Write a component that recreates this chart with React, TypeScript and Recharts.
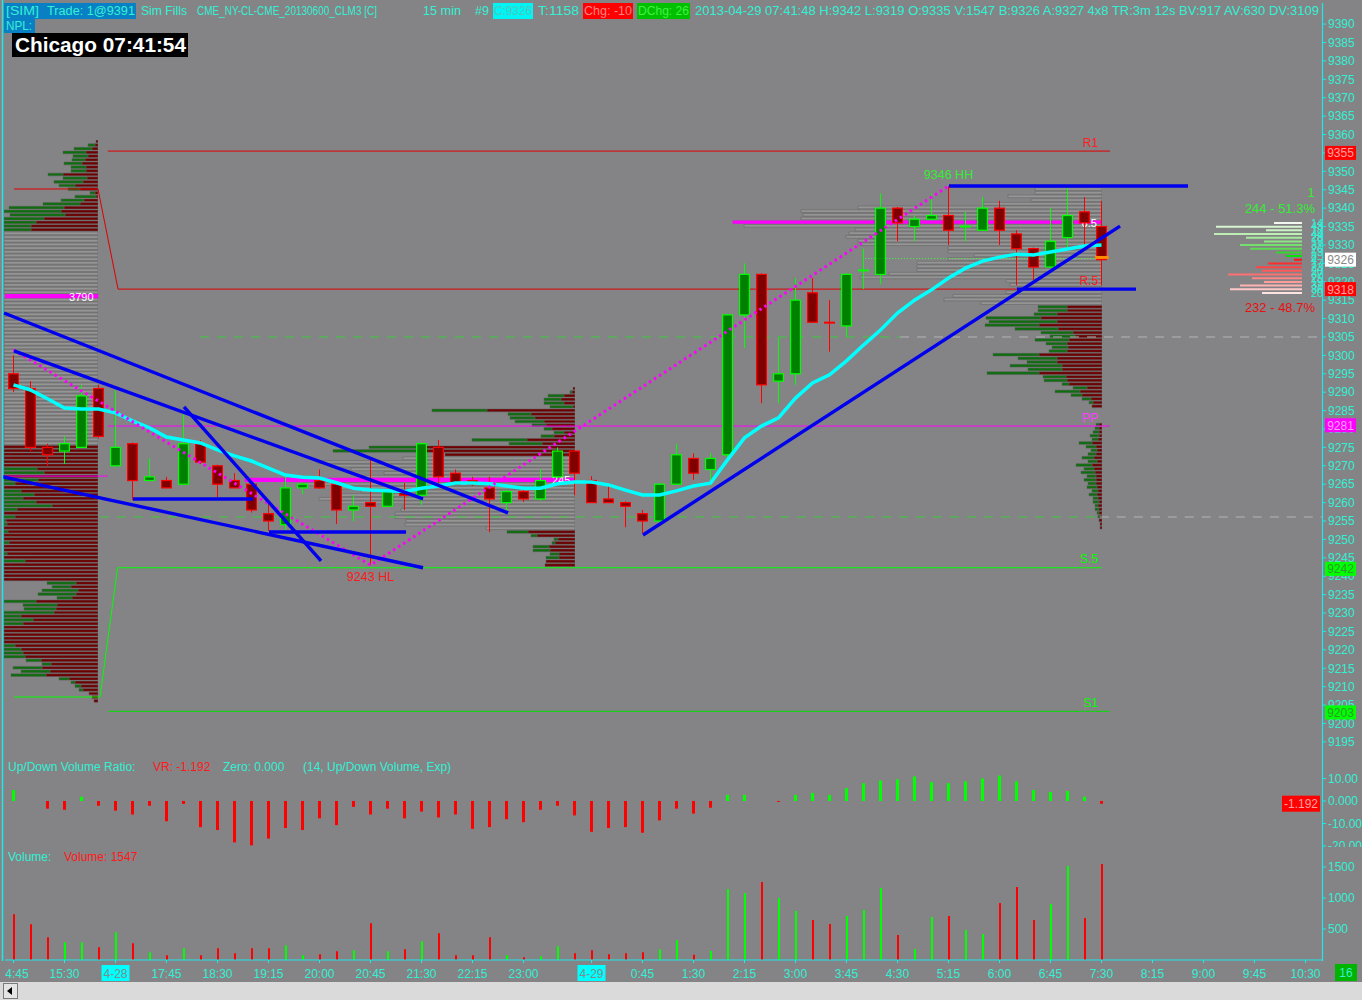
import React from "react";
import {
  ComposedChart,
  Bar,
  Line,
  XAxis,
  YAxis,
  Cell,
  ReferenceLine,
  ReferenceDot,
} from "recharts";

const FONT = "'Liberation Sans', Arial, sans-serif";
const BG = "#848386";
const AQUA = "#33f0d4";
const CYAN_LINE = "#1ee8e8";
const UP = "#00ff00";
const DOWN = "#ff0000";
const BLUE = "#0a80c4";
const TL_BLUE = "#0000ee";
const PROF_GREEN = "#0e6e0e";
const PROF_RED = "#6e0000";
const PROF_GRAY = "#959595";
const PROF_EDGE = "#606060";

// panel geometry
const PAGE_W = 1362;
const PLOT_L = 5;
const AXIS_W = 40;
const PAD_R = 8;
const SLOTS = 77;
const PRICE_TOP = 2;
const PRICE_H = 750;
const PRICE_HI = 9396;
const PRICE_LO = 9192.25;
const RATIO_TOP = 755;
const RATIO_H = 92;
const VOL_TOP = 848;
const VOL_H = 134;

// ---- 15 min bars, CLM3 ----
const opens = [
  9295, 9291, 9275, 9274, 9275, 9291, 9270, 9276, 9266, 9266,
  9265, 9276, 9270, 9266, 9265, 9257, 9254, 9264, 9266, 9265,
  9258, 9260, 9259, 9263, 9262, 9275, 9268, 9266, 9264, 9260,
  9263, 9261, 9267, 9274, 9266, 9261, 9260, 9257, 9255, 9265,
  9272, 9269, 9273, 9311, 9322, 9293, 9295, 9317, 9309, 9308,
  9323, 9322, 9340, 9335, 9337, 9338, 9335, 9334, 9340, 9333,
  9329, 9324, 9332, 9339, 9335,
];
const highs = [
  9300, 9293, 9276, 9278, 9292, 9292, 9290.5, 9276.3, 9272, 9267,
  9284, 9277, 9270.3, 9268, 9265.2, 9260, 9267, 9265.3, 9269, 9265.5,
  9262, 9272, 9263.5, 9265.3, 9276.3, 9277, 9269, 9267, 9267, 9263.5,
  9263.4, 9269, 9275, 9274.2, 9267.2, 9265, 9260.4, 9258, 9265.3, 9276,
  9273.4, 9273.4, 9311.3, 9325, 9322.3, 9305, 9321, 9321, 9315, 9322.3,
  9329, 9344, 9340.3, 9338, 9344, 9346, 9339, 9343, 9342, 9334,
  9329.3, 9340, 9345.4, 9343, 9342,
];
const lows = [
  9290, 9274, 9270, 9270.5, 9275, 9277.5, 9270, 9260.7, 9266, 9264,
  9265, 9270.5, 9261.5, 9264, 9257.3, 9252.3, 9252.6, 9262.3, 9263.8, 9254.2,
  9255, 9243, 9258.8, 9258, 9259.4, 9265.3, 9265, 9264.5, 9252, 9258,
  9260.2, 9260.5, 9266.5, 9262, 9260, 9260, 9253.3, 9251.7, 9254.7, 9264.8,
  9266.2, 9266.2, 9272, 9302, 9287, 9287, 9292, 9308.8, 9301, 9305,
  9318, 9319.3, 9331, 9331, 9336.8, 9330, 9331, 9333.8, 9330, 9319,
  9320.5, 9323.8, 9329, 9330, 9319,
];
const closes = [
  9291, 9275, 9273, 9276, 9289, 9278, 9275, 9266, 9267, 9264,
  9276, 9271, 9265, 9264, 9258, 9255, 9264, 9265, 9264, 9258,
  9259, 9259, 9263, 9262, 9276, 9267, 9265, 9265, 9261, 9263,
  9261, 9266, 9274, 9268, 9260, 9260, 9259, 9255, 9265, 9273,
  9268, 9272, 9311, 9322, 9292, 9295, 9315, 9309, 9308.9, 9322,
  9323.2, 9340, 9336, 9337, 9338, 9334, 9335.1, 9340, 9334, 9329,
  9324, 9331, 9338, 9336, 9326,
];
const ema14 = [
  9292, 9290.6, 9288.2, 9285.7, 9285.4, 9285.4, 9284.4, 9282.2, 9280.3, 9277.8,
  9277, 9276.2, 9274.3, 9272.7, 9271.3, 9269.4, 9267.5, 9266.9, 9266.7, 9265.4,
  9263.9, 9263.4, 9263.2, 9263, 9263.9, 9264.5, 9265.3, 9265.3, 9265.1, 9264.5,
  9263.9, 9263.9, 9265.1, 9265.6, 9265.6, 9264.8, 9263.4, 9262.1, 9262.1, 9263.2,
  9264.5, 9265.3, 9271.6, 9277.6, 9280.8, 9283, 9288.4, 9292.5, 9294.7, 9298.5,
  9302.8, 9306.9, 9311.5, 9315, 9317.8, 9321, 9323.7, 9325.6, 9326.7, 9327.5,
  9327.3, 9328.1, 9328.9, 9329.7, 9330,
];
const volumes = [
  737, 575, 366, 285, 285, 204, 446, 269, 124, 75,
  188, 75, 188, 108, 188, 188, 237, 75, 91, 140,
  156, 591, 140, 172, 301, 430, 75, 75, 366, 75,
  43, 59, 220, 108, 156, 91, 108, 124, 172, 317,
  86, 145, 1145, 1081, 1258, 1000, 790, 645, 581, 710,
  806, 1161, 403, 177, 694, 710, 484, 419, 919, 1177,
  645, 903, 1516, 677, 1547,
];
const udRatio = [
  4.9, 0, -3.4, -3.9, 1.9, -2.1, -4.3, -6, -2.1, -9,
  -1.3, -11.6, -12.9, -18.4, -19.7, -16.7, -12, -12.9, -7.7, -10.7,
  -2.6, -6, -3.4, -7.7, -4.7, -7.3, -6, -12.4, -11.6, -8.1,
  -9.4, -3.9, -2.1, -6.4, -13.7, -12, -11.6, -14.1, -8.6, -3.4,
  -5.6, -3, 2.7, 2.7, 0, -0.4, 2.7, 3.6, 2.7, 5.7,
  7.9, 9.1, 9.6, 10.9, 8.4, 7.9, 8.7, 10, 11.3, 8.7,
  4.9, 4, 4.4, 1.9, -1.192,
];

const tickSlots = [0, 3, 6, 9, 12, 15, 18, 21, 24, 27, 30, 34, 37, 40, 43, 46, 49, 52, 55, 58, 61, 64, 67, 70, 73, 76];
const tickNames = ["4:45", "15:30", "4-28", "17:45", "18:30", "19:15", "20:00", "20:45", "21:30", "22:15", "23:00", "4-29", "0:45", "1:30", "2:15", "3:00", "3:45", "4:30", "5:15", "6:00", "6:45", "7:30", "8:15", "9:00", "9:45", "10:30"];
const dateNames = ["4-28", "4-29"];

const priceTicks = [
  9195, 9200, 9205, 9210, 9215, 9220, 9225, 9230, 9235, 9240,
  9245, 9250, 9255, 9260, 9265, 9270, 9275, 9280, 9285, 9290,
  9295, 9300, 9305, 9310, 9315, 9320, 9325, 9330, 9335, 9340,
  9345, 9350, 9355, 9360, 9365, 9370, 9375, 9380, 9385, 9390,
];
const ratioTicks = [10, 0, -10, -20];
const volumeTicks = [500, 1000, 1500];

// price flags on the axis
const axisFlags = [9355, 9326, 9318, 9281, 9242, 9203];
const flagBg = ["#ff0000", "#ffffff", "#ff0000", "#ff00ff", "#00ff00", "#00ff00"];
const flagFg = ["#ffa0a0", "#8a8a8a", "#ffa0a0", "#ffa0ff", "#2e9a2e", "#2e9a2e"];

// pivots: name, price, from slot, to slot
const pivots: [string, number, number, number][] = [
  ["R1", 9355.5, 5.55, 64.5],
  ["R.5", 9318, 6.15, 64.5],
  ["PP", 9280.8, 5.55, 64.5],
  ["S.5", 9242.3, 6.12, 64.0],
  ["S1", 9203.3, 5.55, 64.5],
];
const pivotColors = ["#e00000", "#e00000", "#ff00ff", "#00ff00", "#00e000"];
const labelColors = ["#ff2020", "#ff2020", "#ff40ff", "#00ff00", "#00ff00"];
// previous session pivots: [slot, price] polylines
const prevPivots: [number, number][][] = [
  [[0.03, 9345.2], [4.97, 9345.2], [6.15, 9318]],
  [[-0.5, 9267.2], [5.55, 9267.2]],
  [[0.03, 9207.2], [5.09, 9207.2], [6.12, 9242.3]],
];
const prevColors = ["#e00000", "#ff00ff", "#00ff00"];

// profile points of control: price, from, to, tag
const pocLines: [number, number, number, string][] = [
  [9316.1, -0.5, 4.98, "3790"],
  [9266.2, 13.6, 33.03, "245"],
  [9336.2, 42.3, 64.0, "6.5"],
];

// drawn trend lines: slot1, price1, slot2, price2
const trendLines = [
  [-0.56, 9311.5, 29.09, 9257.2],
  [0.03, 9301.2, 24.09, 9261],
  [-0.62, 9267, 24.09, 9242.3],
  [10.03, 9286, 18.09, 9244.2],
  [7.03, 9261, 14.09, 9261],
  [15.03, 9252, 23.09, 9252],
  [37.03, 9251.2, 65.09, 9335.1],
  [55.03, 9346, 69.09, 9346],
  [59.03, 9318, 66.03, 9318],
];

// swing zigzag
const swings = [
  { x: 0, y: 9301.5 },
  { x: 21, y: 9243 },
  { x: 55, y: 9346 },
];

// volume profiles, one row per point: [ask, bid, untyped]
type Row = [number, number, number];
const leftProfileTop = 9358;
const leftProfile: Row[] = [
  [0, 2, 0], [7, 3, 0], [18, 6, 0], [23, 12, 0], [15, 10, 0], [13, 13, 0], [18, 16, 0], [15, 12, 0], [15, 12, 0], [15, 35, 0],
  [24, 11, 0], [29, 15, 0], [16, 23, 0], [12, 18, 0], [5, 3, 0], [21, 2, 0], [23, 14, 0], [37, 18, 0], [55, 34, 0], [58, 37, 0],
  [55, 33, 0], [41, 54, 0], [33, 62, 0], [28, 67, 0], [28, 67, 0],
  [0, 0, 95], [0, 0, 95], [0, 0, 95], [0, 0, 95], [0, 0, 95], [0, 0, 95], [0, 0, 95], [0, 0, 95], [0, 0, 95], [0, 0, 95],
  [0, 0, 95], [0, 0, 95], [0, 0, 95], [0, 0, 95], [0, 0, 95], [0, 0, 95], [0, 0, 95], [0, 0, 95], [0, 0, 95], [0, 0, 95],
  [0, 0, 95], [0, 0, 95], [0, 0, 95], [0, 0, 95], [0, 0, 95], [0, 0, 95], [0, 0, 95], [0, 0, 95], [0, 0, 95], [0, 0, 95],
  [0, 0, 95], [0, 0, 95], [0, 0, 95], [0, 0, 95], [0, 0, 95], [0, 0, 95], [0, 0, 95], [0, 0, 95], [0, 0, 95], [0, 0, 95],
  [0, 0, 95], [0, 0, 95], [0, 0, 95], [0, 0, 95], [0, 0, 95], [0, 0, 95], [0, 0, 95], [0, 0, 95], [0, 0, 95], [0, 0, 95],
  [0, 0, 95], [0, 0, 95], [0, 0, 95], [0, 0, 95], [0, 0, 95], [0, 0, 95], [0, 0, 95], [0, 0, 95],
  [0, 95, 0], [0, 95, 0], [0, 95, 0], [0, 95, 0], [0, 95, 0], [0, 95, 0], [34, 61, 0], [41, 54, 0], [0, 95, 0], [35, 60, 0],
  [12, 83, 0], [0, 95, 0], [18, 77, 0], [31, 64, 0], [20, 75, 0], [33, 62, 0], [49, 46, 0], [14, 81, 0], [0, 95, 0], [12, 83, 0],
  [3, 92, 0], [4, 91, 0], [0, 95, 0], [5, 90, 0], [0, 95, 0], [0, 95, 0], [6, 89, 0], [0, 95, 0], [0, 95, 0], [4, 91, 0],
  [0, 95, 0], [22, 73, 0], [0, 95, 0], [0, 95, 0], [0, 95, 0], [0, 95, 0], [0, 95, 0], [29, 22, 0], [19, 27, 0], [36, 20, 0],
  [38, 22, 0], [15, 26, 0], [33, 62, 0], [34, 41, 0], [32, 42, 0], [51, 44, 0], [18, 77, 0], [30, 65, 0], [20, 75, 0], [0, 95, 0],
  [0, 95, 0], [0, 95, 0], [0, 95, 0], [0, 95, 0], [12, 83, 0], [18, 77, 0], [20, 75, 0], [22, 73, 0], [15, 57, 0], [9, 47, 0],
  [29, 56, 0], [29, 48, 0], [35, 52, 0], [10, 29, 0], [4, 23, 0], [6, 17, 0], [4, 15, 0], [0, 9, 0], [0, 6, 0], [0, 4, 0],
];
const midProfileTop = 9291;
const midProfile: Row[] = [
  [0, 2, 0], [2, 3, 0], [16, 11, 0], [17, 14, 0], [20, 11, 0], [23, 2, 0], [55, 88, 0], [23, 44, 0], [25, 40, 0], [29, 31, 0],
  [14, 29, 0], [8, 23, 0], [10, 11, 0], [13, 21, 0], [55, 48, 0], [33, 33, 0], [48, 158, 0], [86, 156, 0], [0, 130, 0],
  [0, 0, 172], [0, 0, 258], [0, 0, 245], [0, 0, 224], [0, 0, 191], [0, 0, 214], [0, 0, 285], [0, 0, 272], [0, 0, 244], [0, 0, 214],
  [0, 0, 234], [0, 0, 256], [0, 0, 244], [0, 0, 172], [0, 0, 174], [0, 0, 180], [0, 0, 180], [0, 0, 169], [0, 0, 170], [0, 0, 89],
  [21, 47, 0], [6, 38, 0], [4, 17, 0], [3, 20, 0], [16, 26, 0], [17, 25, 0], [9, 16, 0], [13, 16, 0], [0, 29, 0], [0, 30, 0],
];
const rightProfileTop = 9346;
const rightProfile: Row[] = [
  [0, 0, 21], [0, 0, 67], [0, 0, 67], [0, 0, 94], [0, 0, 71], [0, 0, 119], [0, 0, 244], [0, 0, 301], [0, 0, 299], [0, 0, 301],
  [0, 0, 369], [0, 0, 358], [0, 0, 247], [0, 0, 253], [0, 0, 256], [0, 0, 244], [0, 0, 244], [0, 0, 154], [0, 0, 154], [0, 0, 128],
  [0, 0, 154], [0, 0, 185], [0, 0, 185], [0, 0, 185], [0, 0, 213], [0, 0, 242], [0, 0, 96], [0, 0, 92], [0, 0, 85], [0, 0, 96],
  [0, 0, 149], [0, 0, 158], [0, 0, 121],
  [29, 35, 0], [29, 35, 0], [23, 45, 0], [55, 61, 0], [68, 45, 0], [54, 63, 0], [43, 44, 0], [32, 29, 0], [25, 27, 0], [34, 33, 0],
  [21, 35, 0], [16, 34, 0], [18, 35, 0], [46, 63, 0], [39, 45, 0], [30, 45, 0], [52, 40, 0], [34, 40, 0], [52, 63, 0], [23, 36, 0],
  [23, 35, 0], [7, 33, 0], [14, 15, 0], [25, 22, 0], [11, 20, 0], [9, 11, 0], [4, 9, 0], [0, 10, 0],
  [0, 0, 0], [0, 0, 0], [0, 0, 0], [0, 0, 0],
  [3, 3, 0], [4, 3, 0], [6, 3, 0], [9, 3, 0], [6, 4, 0], [13, 10, 0], [10, 6, 0], [6, 5, 0], [8, 6, 0], [12, 8, 0],
  [9, 5, 0], [16, 10, 0], [10, 8, 0], [14, 7, 0], [9, 6, 0], [12, 6, 0], [8, 6, 0], [10, 5, 0], [6, 4, 0], [8, 5, 0],
  [5, 4, 0], [6, 3, 0], [3, 4, 0], [4, 3, 0], [2, 3, 0], [2, 2, 0], [0, 3, 0], [0, 2, 0], [0, 2, 0],
];

// depth of market
const domPrices = [9336, 9335, 9334, 9333, 9332, 9331, 9330, 9329, 9328, 9327, 9326, 9325, 9324, 9323, 9322, 9321, 9320, 9319, 9318, 9317];
const domSizes = [14, 43, 18, 44, 28, 19, 31, 26, 13, 8, 4, 17, 23, 20, 37, 25, 19, 31, 36, 20];
const domColors = [
  "#f2f7f2", "#d6f5d0", "#cbf2c3", "#bdefb5", "#a6ea9c", "#8fe585", "#74e06b", "#5edb55", "#36d42e", "#00e600",
  "#ff1414", "#ff2e2e", "#ff4444", "#ff5a5a", "#ff7070", "#ff8686", "#ff9c9c", "#ffb2b2", "#ffc8c8", "#ffe2e2",
];

const yOf = (price: number) => PRICE_TOP + ((PRICE_HI - price) / (PRICE_HI - PRICE_LO)) * PRICE_H;
const ROW = PRICE_H / (PRICE_HI - PRICE_LO);

const rows = Array.from({ length: SLOTS }, (_, i) =>
  i < opens.length
    ? {
        i,
        o: opens[i],
        h: highs[i],
        l: lows[i],
        c: closes[i],
        range: [lows[i], highs[i]],
        ema: ema14[i],
        vol: volumes[i],
        vr: udRatio[i],
      }
    : { i }
);

function Candle(props: any) {
  const { x, width, payload } = props;
  let { y, height } = props;
  if (!payload || payload.o == null) return null;
  if (height < 0) {
    y += height;
    height = -height;
  }
  const { o, h, l, c } = payload;
  const k = h > l ? height / (h - l) : 0;
  const mid = x + width / 2;
  const yo = y + (h - o) * k;
  const yc = y + (h - c) * k;
  const up = c >= o;
  const top = Math.min(yo, yc);
  const bh = Math.max(Math.abs(yc - yo), 0.8);
  return (
    <g>
      <line x1={mid} x2={mid} y1={y} y2={y + height} stroke={up ? UP : DOWN} strokeWidth={1} />
      <rect
        x={x + 0.6}
        y={top}
        width={width - 1.2}
        height={bh}
        fill={up ? "#008000" : "#800000"}
        stroke={up ? UP : DOWN}
        strokeWidth={1.2}
      />
    </g>
  );
}

function Profile({ top, data, right, span }: { top: number; data: Row[]; right: number; span: number }) {
  const pts = data.map((r, k) => ({ p: top - k, ask: r[0], bid: r[1], gray: r[2] }));
  return (
    <div style={{ position: "absolute", left: right - span, top: yOf(top + 0.5) }}>
      <ComposedChart
        layout="vertical"
        width={span}
        height={data.length * ROW}
        data={pts}
        margin={{ top: 0, right: 0, bottom: 0, left: 0 }}
      >
        <XAxis type="number" domain={[0, span]} reversed hide allowDataOverflow />
        <YAxis type="category" dataKey="p" hide />
        <Bar dataKey="bid" stackId="v" barSize={2.7} fill={PROF_RED} stroke={PROF_EDGE} strokeWidth={0.5} isAnimationActive={false} />
        <Bar dataKey="ask" stackId="v" barSize={2.7} fill={PROF_GREEN} stroke={PROF_EDGE} strokeWidth={0.5} isAnimationActive={false} />
        <Bar dataKey="gray" stackId="v" barSize={2.7} fill={PROF_GRAY} stroke={PROF_EDGE} strokeWidth={0.5} isAnimationActive={false} />
      </ComposedChart>
    </div>
  );
}

const DOM_PAD = 7;

function DomLadder() {
  const pts = domPrices.map((p, k) => ({ p, size: domSizes[k] }));
  return (
    <div style={{ position: "absolute", left: 1212, top: yOf(domPrices[0] + 0.5) - DOM_PAD }}>
      <ComposedChart
        layout="vertical"
        width={112}
        height={pts.length * ROW + 2 * DOM_PAD}
        data={pts}
        margin={{ top: DOM_PAD, right: 0, bottom: DOM_PAD, left: 0 }}
      >
        <XAxis type="number" domain={[0, 45]} reversed hide allowDataOverflow />
        <YAxis
          type="category"
          dataKey="p"
          orientation="right"
          width={22}
          axisLine={false}
          tickLine={false}
          interval={0}
          tickMargin={3}
          tick={{ fill: AQUA, fontSize: 11 }}
          tickFormatter={(_v: any, k: number) => String(domSizes[k])}
        />
        <Bar dataKey="size" barSize={2} isAnimationActive={false}>
          {pts.map((_, k) => (
            <Cell key={k} fill={domColors[k]} />
          ))}
        </Bar>
      </ComposedChart>
    </div>
  );
}

const textDot = (label: string, color: string, anchor: string, dy: number, size = 12) => (p: any) => (
  <text x={p.cx} y={p.cy + dy} fill={color} fontSize={size} textAnchor={anchor} fontFamily={FONT}>
    {label}
  </text>
);

function BackOverlay() {
  return (
    <div style={{ position: "absolute", left: 0, top: PRICE_TOP }}>
      <ComposedChart width={PAGE_W} height={PRICE_H} data={swings} margin={{ top: 0, right: AXIS_W, bottom: 0, left: PLOT_L }}>
        <XAxis type="number" dataKey="x" domain={[-0.5, SLOTS - 0.5]} hide allowDataOverflow padding={{ left: 0, right: PAD_R }} />
        <YAxis type="number" domain={[PRICE_LO, PRICE_HI]} hide allowDataOverflow />
        {/* dashed reference levels */}
        <ReferenceLine segment={[{ x: 10.97, y: 9305 }, { x: 52.15, y: 9305 }]} stroke="#3ccc3c" strokeDasharray="9 8" ifOverflow="visible" />
        <ReferenceLine segment={[{ x: 52.15, y: 9305 }, { x: 77, y: 9305 }]} stroke="#b4b4b4" strokeDasharray="9 8" ifOverflow="visible" />
        <ReferenceLine segment={[{ x: 5.09, y: 9256.1 }, { x: 63.9, y: 9256.1 }]} stroke="#3ccc3c" strokeDasharray="9 8" ifOverflow="visible" />
        <ReferenceLine segment={[{ x: 63.9, y: 9256.1 }, { x: 77, y: 9256.1 }]} stroke="#b4b4b4" strokeDasharray="9 8" ifOverflow="visible" />
        <ReferenceLine segment={[{ x: 50.1, y: 9326.3 }, { x: 64.0, y: 9326.3 }]} stroke="#40ff40" strokeDasharray="1 2" ifOverflow="visible" />
        {pivots.map(([name, price, from, to], k) => (
          <ReferenceLine key={name} segment={[{ x: from, y: price }, { x: to, y: price }]} stroke={pivotColors[k]} strokeWidth={1} ifOverflow="visible" />
        ))}
        {pivots.map(([name, price], k) => (
          <ReferenceDot key={"l" + name} x={63.8} y={price} r={0} ifOverflow="visible" shape={textDot(name, labelColors[k], "end", -4.3)} />
        ))}
        {prevPivots.map((pl, k) =>
          pl.slice(1).map((pt, j) => (
            <ReferenceLine
              key={`pp${k}-${j}`}
              segment={[{ x: pl[j][0], y: pl[j][1] }, { x: pt[0], y: pt[1] }]}
              stroke={prevColors[k]}
              strokeWidth={1}
              ifOverflow="visible"
            />
          ))
        )}
        {pocLines.map(([price, from, to], k) => (
          <ReferenceLine key={"poc" + k} segment={[{ x: from, y: price }, { x: to, y: price }]} stroke="#ff00ff" strokeWidth={k === 2 ? 3.2 : 4.2} ifOverflow="visible" />
        ))}
        {pocLines.map(([price, , to, tag], k) => (
          <ReferenceDot key={"tag" + k} x={to - 0.27} y={price} r={0} ifOverflow="visible" shape={textDot(tag, "#ffffff", "end", 4.5, 11)} />
        ))}
      </ComposedChart>
    </div>
  );
}

function FrontOverlay() {
  return (
    <div style={{ position: "absolute", left: 0, top: PRICE_TOP }}>
      <ComposedChart width={PAGE_W} height={PRICE_H} data={swings} margin={{ top: 0, right: AXIS_W, bottom: 0, left: PLOT_L }}>
        <XAxis type="number" dataKey="x" domain={[-0.5, SLOTS - 0.5]} hide allowDataOverflow padding={{ left: 0, right: PAD_R }} />
        <YAxis type="number" domain={[PRICE_LO, PRICE_HI]} hide allowDataOverflow />
        <Line dataKey="y" stroke="#ff00ff" strokeWidth={3} strokeDasharray="2.5 3.5" dot={false} isAnimationActive={false} />
        {trendLines.map(([x1, p1, x2, p2], k) => (
          <ReferenceLine key={"tl" + k} segment={[{ x: x1, y: p1 }, { x: x2, y: p2 }]} stroke={TL_BLUE} strokeWidth={3.4} ifOverflow="visible" />
        ))}
        <ReferenceLine segment={[{ x: 63.62, y: 9326.6 }, { x: 64.42, y: 9326.6 }]} stroke="#ff8c00" strokeWidth={3} ifOverflow="visible" />
        <ReferenceDot x={55} y={9346} r={0} ifOverflow="visible" shape={textDot("9346 HH", "#33ee33", "middle", -7.5, 12.5)} />
        <ReferenceDot x={21} y={9243} r={0} ifOverflow="visible" shape={textDot("9243 HL", "#ff1a1a", "middle", 16, 12.5)} />
        {axisFlags.map((p, k) => (
          <ReferenceDot
            key={"flag" + p}
            x={77}
            y={p}
            r={0}
            ifOverflow="visible"
            shape={(s: any) => (
              <g>
                <rect x={s.cx + 2.5} y={s.cy - 7} width={31} height={14} fill={flagBg[k]} />
                <text x={s.cx + 18} y={s.cy + 4.5} fill={flagFg[k]} fontSize={12} textAnchor="middle" fontFamily={FONT}>
                  {p}
                </text>
              </g>
            )}
          />
        ))}
      </ComposedChart>
    </div>
  );
}

function PricePanel() {
  return (
    <div style={{ position: "absolute", left: 0, top: PRICE_TOP }}>
      <ComposedChart width={PAGE_W} height={PRICE_H} data={rows} margin={{ top: 0, right: 0, bottom: 0, left: PLOT_L }}>
        <XAxis dataKey="i" hide padding={{ left: 0, right: PAD_R }} />
        <YAxis
          orientation="right"
          width={AXIS_W}
          type="number"
          domain={[PRICE_LO, PRICE_HI]}
          allowDataOverflow
          ticks={priceTicks}
          interval={0}
          axisLine={false}
          tickLine={{ stroke: CYAN_LINE }}
          tickSize={4}
          tickMargin={2}
          tick={{ fill: AQUA, fontSize: 12 }}
        />
        <Bar dataKey="range" barSize={11} shape={Candle} isAnimationActive={false} />
        <Line dataKey="ema" stroke="#00ffff" strokeWidth={3.5} dot={false} isAnimationActive={false} />
      </ComposedChart>
    </div>
  );
}

function RatioPanel() {
  return (
    <div style={{ position: "absolute", left: 0, top: RATIO_TOP }}>
      <ComposedChart width={PAGE_W} height={RATIO_H} data={rows} margin={{ top: 0, right: 0, bottom: 0, left: PLOT_L }}>
        <XAxis dataKey="i" hide padding={{ left: 0, right: PAD_R }} />
        <YAxis
          orientation="right"
          width={AXIS_W}
          type="number"
          domain={[-20.44, 20.44]}
          allowDataOverflow
          ticks={ratioTicks}
          interval={0}
          axisLine={false}
          tickLine={{ stroke: CYAN_LINE }}
          tickSize={4}
          tickMargin={2}
          tick={{ fill: AQUA, fontSize: 12 }}
          tickFormatter={(v: number) => (v === 0 ? "0.000" : v.toFixed(2))}
        />
        <Bar dataKey="vr" barSize={3} isAnimationActive={false}>
          {rows.map((r: any) => (
            <Cell key={r.i} fill={r.vr >= 0 ? UP : DOWN} />
          ))}
        </Bar>
        <ReferenceDot
          x={76}
          y={udRatio[udRatio.length - 1]}
          r={0}
          ifOverflow="visible"
          shape={(s: any) => (
            <g>
              <rect x={s.cx - 23.5} y={s.cy - 8} width={38} height={16} fill="#ff0000" />
              <text x={s.cx - 4.5} y={s.cy + 4.5} fill="#ffa0a0" fontSize={12} textAnchor="middle" fontFamily={FONT}>
                -1.192
              </text>
            </g>
          )}
        />
      </ComposedChart>
    </div>
  );
}

function SlotTick(props: any) {
  const { x, y, payload } = props;
  const k = tickSlots.indexOf(payload.value);
  const name = tickNames[k] ?? "";
  const isDate = dateNames.includes(name);
  const cx = k === 0 ? x + 3.5 : x;
  return (
    <g>
      {isDate && <rect x={cx - 14} y={y} width={28} height={16} fill="#00ffff" />}
      <text x={cx} y={y + 12.5} fill={isDate ? "#7c8c8c" : AQUA} fontSize={12} textAnchor="middle" fontFamily={FONT}>
        {name}
      </text>
    </g>
  );
}

function VolumePanel() {
  return (
    <div style={{ position: "absolute", left: 0, top: VOL_TOP }}>
      <ComposedChart width={PAGE_W} height={VOL_H} data={rows} margin={{ top: 0, right: 0, bottom: 0, left: PLOT_L }}>
        <XAxis
          dataKey="i"
          padding={{ left: 0, right: PAD_R }}
          ticks={tickSlots}
          interval={0}
          height={22}
          tickSize={3}
          tickMargin={2}
          axisLine={{ stroke: CYAN_LINE }}
          tickLine={{ stroke: CYAN_LINE }}
          tick={<SlotTick />}
        />
        <YAxis
          orientation="right"
          width={AXIS_W}
          type="number"
          domain={[0, 1806]}
          allowDataOverflow
          ticks={volumeTicks}
          interval={0}
          axisLine={false}
          tickLine={{ stroke: CYAN_LINE }}
          tickSize={4}
          tickMargin={2}
          tick={{ fill: AQUA, fontSize: 12 }}
        />
        <Bar dataKey="vol" barSize={2} isAnimationActive={false}>
          {rows.map((r: any) => (
            <Cell key={r.i} fill={r.c >= r.o ? UP : DOWN} />
          ))}
        </Bar>
      </ComposedChart>
    </div>
  );
}

const header: [string, number, number, string][] = [
  ["[SIM]", 6, 33, AQUA],
  ["Trade: 1@9391", 47, 88, AQUA],
  ["Sim Fills", 141, 46, AQUA],
  ["CME_NY-CL-CME_20130600_CLM3 [C]", 197, 180, AQUA],
  ["15 min", 423, 38, AQUA],
  ["#9", 475, 14, AQUA],
  ["C:9326", 494, 38, "#4cc8c0"],
  ["T:1158", 538, 41, AQUA],
  ["Chg: -10", 584, 48, "#ff8080"],
  ["DChg: 26", 638, 51, "#44f044"],
  ["2013-04-29 07:41:48 H:9342 L:9319 O:9335 V:1547 B:9326 A:9327 4x8 TR:3m 12s BV:917 AV:630 DV:3109", 695, 624, AQUA],
];

function Decor() {
  return (
    <svg width={PAGE_W} height={1000} style={{ position: "absolute", left: 0, top: 0 }} fontFamily={FONT}>
      <rect x={4} y={3} width={132} height={16} fill={BLUE} />
      <rect x={4} y={19} width={31} height={14} fill={BLUE} />
      <rect x={493} y={3} width={40} height={16} fill="#00f4f4" />
      <rect x={583} y={3} width={50} height={16} fill="#ff0000" />
      <rect x={637} y={3} width={53} height={16} fill="#00c000" />
      {header.map(([t, x, w, c]) => (
        <text key={t} x={x} y={15} fill={c} fontSize={12} textLength={w} lengthAdjust="spacingAndGlyphs">
          {t}
        </text>
      ))}
      <text x={6} y={30} fill={AQUA} fontSize={12} textLength={26} lengthAdjust="spacingAndGlyphs">
        NPL:
      </text>

      <rect x={12} y={33} width={176} height={24} fill="#000000" />
      <text x={15} y={52} fill="#ffffff" fontSize={21} fontWeight="bold" textLength={171} lengthAdjust="spacingAndGlyphs">
        Chicago 07:41:54
      </text>

      <line x1={2.5} y1={0} x2={2.5} y2={961} stroke={CYAN_LINE} strokeWidth={1.5} />
      <line x1={1322.5} y1={3} x2={1322.5} y2={961} stroke={CYAN_LINE} strokeWidth={1.2} />

      <text x={1311} y={197} fill="#33ee33" fontSize={13} textAnchor="middle">1</text>
      <text x={1315} y={213} fill="#33ee33" fontSize={13} textAnchor="end">244 - 51.3%</text>
      <text x={1315} y={312} fill="#e81010" fontSize={13} textAnchor="end">232 - 48.7%</text>

      <text x={8} y={771} fontSize={12}>
        <tspan fill={AQUA}>Up/Down Volume Ratio:</tspan>
        <tspan x={153} fill="#ff1a1a">VR: -1.192</tspan>
        <tspan x={223} fill={AQUA}>Zero: 0.000</tspan>
        <tspan x={303} fill={AQUA}>(14, Up/Down Volume, Exp)</tspan>
      </text>
      <text x={8} y={861} fontSize={12}>
        <tspan fill={AQUA}>Volume:</tspan>
        <tspan x={64} fill="#ff1a1a">Volume: 1547</tspan>
      </text>

      <rect x={1335} y={964} width={22} height={17} fill="#00b400" />
      <text x={1346} y={977} fill={AQUA} fontSize={12} textAnchor="middle">16</text>

      <rect x={0} y={982} width={PAGE_W} height={18} fill="#dadada" />
      <rect x={3.5} y={983.5} width={14} height={15} fill="#e4e4e4" stroke="#7a7a7a" />
      <path d="M7 991 L12 987 L12 995 Z" fill="#000000" />
    </svg>
  );
}

export default function App() {
  return (
    <div
      style={{
        position: "absolute",
        left: 0,
        top: 0,
        width: PAGE_W,
        height: 1000,
        background: BG,
        overflow: "hidden",
        fontFamily: FONT,
      }}
    >
      <Profile top={leftProfileTop} data={leftProfile} right={98} span={94} />
      <Profile top={midProfileTop} data={midProfile} right={575} span={290} />
      <Profile top={rightProfileTop} data={rightProfile} right={1101.5} span={370} />
      <DomLadder />
      <BackOverlay />
      <PricePanel />
      <FrontOverlay />
      <RatioPanel />
      <VolumePanel />
      <Decor />
    </div>
  );
}
